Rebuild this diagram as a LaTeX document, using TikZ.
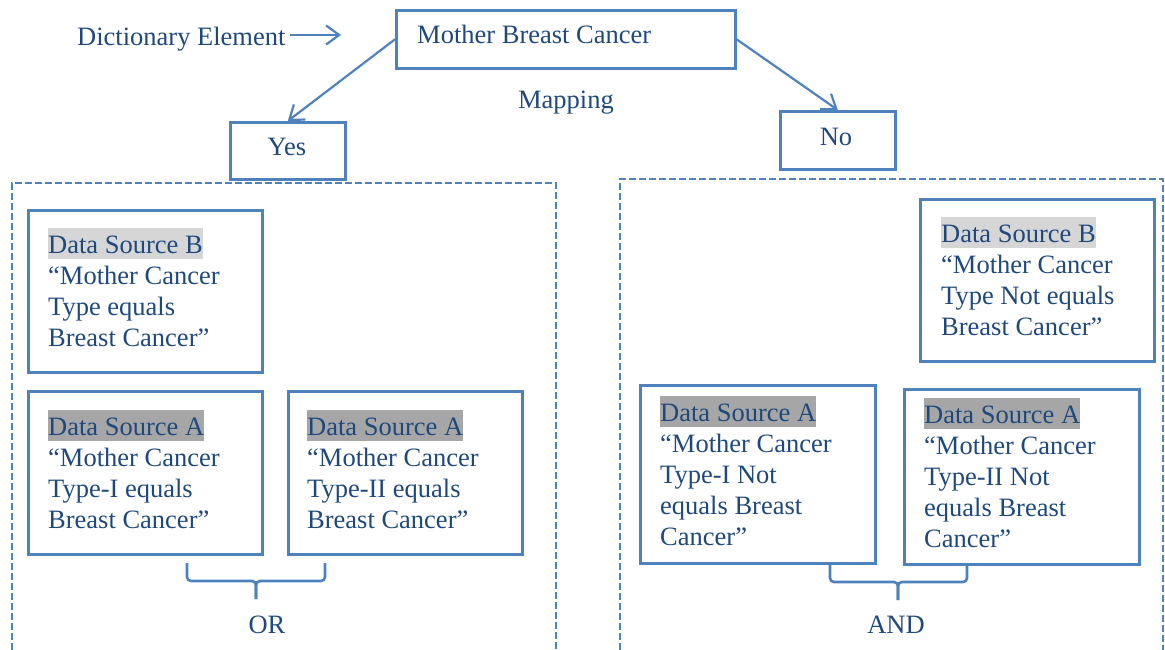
\documentclass[tikz,border=0pt]{standalone}
\usepackage{fontspec}
\setmainfont{Liberation Serif}
\usetikzlibrary{arrows.meta}
\definecolor{txtblue}{HTML}{1F497D}
\definecolor{boxblue}{HTML}{4F81BD}
\definecolor{hlB}{HTML}{D6D6D6}
\definecolor{hlA}{HTML}{A6A6A6}
\newcommand{\hlbox}[2]{{\setlength{\fboxsep}{0pt}\colorbox{#1}{\rule[-6pt]{0pt}{31pt}#2}}}
\tikzset{
  every node/.style={text=txtblue, font=\fontsize{26.5}{31}\selectfont},
  solidbox/.style={draw=boxblue, line width=2.6pt, inner sep=0pt, anchor=north west},
  dashbox/.style={draw=boxblue, line width=2.8pt, dash pattern=on 7pt off 3pt},
  para/.style={align=left, inner sep=0pt, anchor=north west},
  conn/.style={draw=boxblue, line width=2.2pt, -{Straight Barb[length=13pt,width=19pt,line width=2.2pt]}},
  bracestyle/.style={draw=boxblue, line width=2.6pt, rounded corners=4pt}
}
\begin{document}
\begin{tikzpicture}[x=1pt, y=-1pt]
\useasboundingbox (0,0) rectangle (1165,649);
\begin{scope}
\clip (0,0) rectangle (1165,649);
% dashed groups
\draw[dashbox] (12,670) -- (12,183) -- (556,183) -- (556,670);
\draw[dashbox] (620,670) -- (620,179) -- (1163,179) -- (1163,670);
\end{scope}

% top
\node[anchor=base west, inner sep=0pt] (dict) at (77,45) {Dictionary Element};
\coordinate (dictend) at (341,35);
\draw[conn] (290,35) -- (dictend);

\node[solidbox, minimum width=339pt, minimum height=58pt] (mbc) at (395,9) {};
\node[anchor=base west, inner sep=0pt] (mbct) at (417,43) {Mother Breast Cancer};
\node[anchor=base, inner sep=0pt] (mapping) at (566,108) {Mapping};

\node[solidbox, minimum width=115pt, minimum height=57pt] (yes) at (229,121) {};
\node[anchor=base, inner sep=0pt] (yest) at (287,155) {Yes};
\node[solidbox, minimum width=115pt, minimum height=58pt] (no) at (779,110) {};
\node[anchor=base, inner sep=0pt] (not) at (836,145) {No};

\draw[conn] (mbc.west) -- (yes.north);
\draw[conn] (mbc.east) -- (no.north);

% left group
\node[solidbox, minimum width=234pt, minimum height=162pt] (lb) at (27,209) {};
\node[para] (lbt) at (48,228) {\hlbox{hlB}{Data Source B}\\``Mother Cancer\\Type equals\\Breast Cancer''};
\node[solidbox, minimum width=234pt, minimum height=163pt] (la1) at (27,390) {};
\node[para] (la1t) at (48,410) {\hlbox{hlA}{Data Source A}\\``Mother Cancer\\Type-I equals\\Breast Cancer''};
\node[solidbox, minimum width=234pt, minimum height=163pt] (la2) at (287,390) {};
\node[para] (la2t) at (307,410) {\hlbox{hlA}{Data Source A}\\``Mother Cancer\\Type-II equals\\Breast Cancer''};

\draw[bracestyle] (187,563) -- (187,581) -- (256,581) -- (256,599);
\draw[bracestyle] (325,563) -- (325,581) -- (256,581) -- (256,599);
\node[anchor=base, inner sep=0pt] (or) at (267,633) {OR};

% right group
\node[solidbox, minimum width=234pt, minimum height=162pt] (rb) at (919,198) {};
\node[para] (rbt) at (941,217) {\hlbox{hlB}{Data Source B}\\``Mother Cancer\\Type Not equals\\Breast Cancer''};
\node[solidbox, minimum width=235pt, minimum height=178pt] (ra1) at (639,384) {};
\node[para] (ra1t) at (660,396) {\hlbox{hlA}{Data Source A}\\``Mother Cancer\\Type-I Not\\equals Breast\\Cancer''};
\node[solidbox, minimum width=235pt, minimum height=175pt] (ra2) at (903,388) {};
\node[para] (ra2t) at (924,398) {\hlbox{hlA}{Data Source A}\\``Mother Cancer\\Type-II Not\\equals Breast\\Cancer''};

\draw[bracestyle] (830,563) -- (830,582) -- (898,582) -- (898,600);
\draw[bracestyle] (967,563) -- (967,582) -- (898,582) -- (898,600);
\node[anchor=base, inner sep=0pt] (and) at (896,633) {AND};
\end{tikzpicture}
\end{document}
